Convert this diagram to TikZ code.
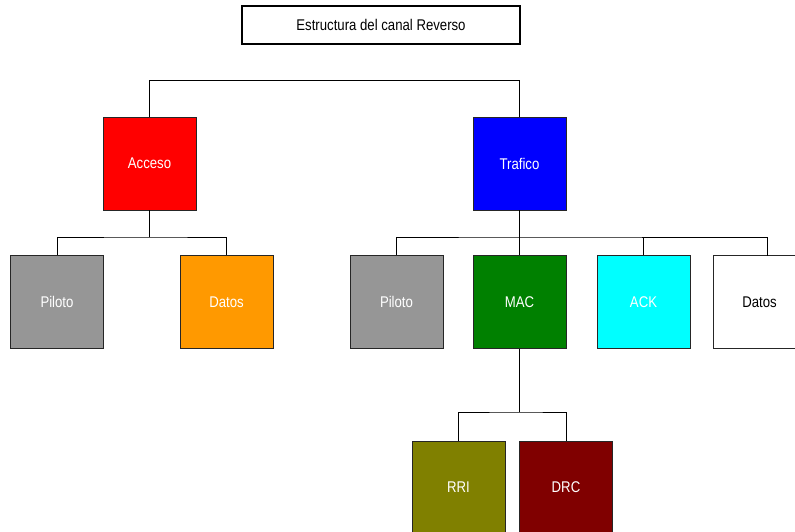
\documentclass[tikz,border=0pt]{standalone}
\usepackage{fontspec}
\setmainfont[FakeStretch=0.85]{Liberation Sans}
\definecolor{cgray}{HTML}{969696}
\definecolor{corange}{HTML}{FF9900}
\definecolor{cred}{HTML}{FF0000}
\definecolor{cblue}{HTML}{0000FF}
\definecolor{cgreen}{HTML}{008000}
\definecolor{ccyan}{HTML}{00FFFF}
\definecolor{colive}{HTML}{808000}
\definecolor{cdred}{HTML}{800000}
\begin{document}
\begin{tikzpicture}[x=1pt,y=-1pt,
  box/.style={draw=black!85,line width=0.8pt,minimum width=93pt,minimum height=93pt,inner sep=0pt,text=white,font=\fontsize{15.5}{18}\selectfont},
  link/.style={draw=black,line width=0.8pt}]
\useasboundingbox (0,0) rectangle (795,531);
\begin{scope}
\clip (0,0) rectangle (795,531);
\node[draw=black,line width=1.8pt,minimum width=278pt,minimum height=38pt,inner sep=0pt,font=\fontsize{15.5}{18}\selectfont] (title) at (381,25) {Estructura del canal Reverso};
\node[box,fill=cred] (acc) at (149.5,163.5) {Acceso};
\node[box,fill=cblue] (tra) at (519.5,163.5) {Trafico};
\node[box,fill=cgray] (p1) at (57,302) {Piloto};
\node[box,fill=corange] (d1) at (226.5,302) {Datos};
\node[box,fill=cgray] (p2) at (396.5,302) {Piloto};
\node[box,fill=cgreen] (mac) at (519.5,302) {MAC};
\node[box,fill=ccyan] (ack) at (643.5,302) {ACK};
\node[box,fill=white,text=black] (d2) at (759.5,302) {Datos};
\node[box,fill=colive] (rri) at (458.5,487.5) {RRI};
\node[box,fill=cdred] (drc) at (566,487.5) {DRC};
\coordinate (t1) at (149.5,80);
\coordinate (t2) at (519.5,80);
\draw[link] (acc.north) -- (t1) -- (t2) -- (tra.north);
% left branch
\coordinate (a1) at (149.5,237);
\draw[link] (acc.south) -- (a1);
\draw[link] (p1.north) |- (a1) -| (d1.north);
% right branch
\coordinate (b1) at (519.5,237);
\coordinate (bd) at (767,237);
\coordinate (bdn) at (767,256);
\draw[link] (tra.south) -- (mac.north);
\draw[link] (p2.north) |- (b1) -- (bd) -- (bdn);
\draw[link] (ack.north) -- (ack.north |- b1);
% MAC branch
\coordinate (m1) at (519.5,412);
\draw[link] (mac.south) -- (m1);
\draw[link] (rri.north) |- (m1) -| (drc.north);
\end{scope}
\end{tikzpicture}
\end{document}
